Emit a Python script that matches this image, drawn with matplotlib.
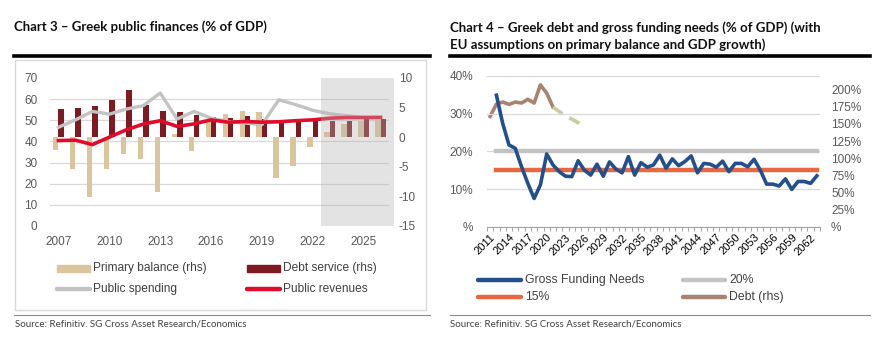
import numpy as np
import matplotlib
matplotlib.use("Agg")
import matplotlib.pyplot as plt
from matplotlib.lines import Line2D
from matplotlib.patches import Rectangle

# chart 3: Greek public finances (% of GDP)
years3 = list(range(2007, 2027))
primary_balance = [-2.1, -5.3, -10.1, -5.3, -2.8, -3.7, -9.2, 0.5, -2.3, 2.7,
                   3.9, 4.5, 4.3, -6.9, -4.9, -1.6, 0.9, 2.2, 2.7, 2.9]
debt_service = [4.7, 5.0, 5.3, 6.3, 7.9, 5.5, 4.35, 4.2, 3.8, 3.4,
                3.3, 3.6, 3.0, 2.9, 2.8, 2.8, 2.8, 2.8, 3.0, 3.0]
public_spending = [46.7, 50.2, 54.2, 52.9, 55.3, 56.9, 62.9, 50.6, 54.2, 51.0,
                   49.4, 48.7, 47.9, 59.7, 57.4, 54.7, 53.1, 52.1, 51.5, 51.5]
public_revenues = [40.4, 40.6, 38.5, 42.0, 45.5, 48.2, 49.8, 47.1, 48.3, 50.2,
                   49.1, 49.4, 49.1, 49.3, 49.8, 50.2, 51.0, 51.3, 51.3, 51.3]
forecast_start3 = 2022.5

# chart 4: Greek debt and gross funding needs (% of GDP)
years4 = list(range(2011, 2064))
gfn_years = list(range(2012, 2064))
gross_funding_needs = [34.9, 27.4, 21.7, 20.8, 15.9, 11.5, 7.5, 11.1, 19.3, 16.4,
                       14.6, 13.4, 13.3, 17.5, 15.0, 13.7, 16.6, 13.4, 17.2, 15.3,
                       14.3, 18.6, 13.7, 17.0, 15.8, 16.4, 19.0, 15.5, 18.0, 16.2,
                       17.3, 18.8, 14.3, 16.8, 16.6, 15.8, 17.4, 14.6, 16.8, 16.8,
                       15.9, 17.9, 15.0, 11.3, 11.3, 10.8, 12.7, 9.9, 12.0, 12.0,
                       11.5, 13.5]
debt_years = list(range(2011, 2022))
debt = [161, 179, 182, 178.5, 182, 180.5, 186, 180.5, 207, 195, 174.7]
debt_proj_years = list(range(2021, 2027))
debt_proj = [174.7, 168, 162, 157, 152, 147]
threshold_high = 20
threshold_low = 15

TAN = "#dac59c"
DARK_RED = "#7d1b20"
GREY_LINE = "#c3c3c3"
RED_LINE = "#e30b2c"
BLUE = "#234f8c"
ORANGE = "#e8673f"
BROWN = "#a98371"
DASH = "#cbcba0"
TICK_COL = "#595959"
GRID_COL = "#d9d9d9"

W, H = 878, 345
plt.rcParams["font.family"] = ["Liberation Sans", "DejaVu Sans"]
plt.rcParams["axes.unicode_minus"] = False

fig = plt.figure(figsize=(W / 100, H / 100), dpi=100)


def fx(x):
    return x / W


def fy(y):
    return 1 - y / H


def px_axes(x0, y0, x1, y1):
    return fig.add_axes([fx(x0), fy(y1), fx(x1 - x0), (y1 - y0) / H])


def key_line(x0, x1, y, color, lw=3.2):
    fig.add_artist(Line2D([fx(x0), fx(x1)], [fy(y), fy(y)], color=color, lw=lw,
                          solid_capstyle="round", transform=fig.transFigure))


def key_box(x0, x1, y, color):
    fig.add_artist(Rectangle((fx(x0), fy(y + 3.5)), fx(x1 - x0), 7 / H,
                             color=color, transform=fig.transFigure))


def key_text(x, y, s, size=8.6):
    fig.text(fx(x), fy(y), s, fontsize=size, color="#404040", va="center", ha="left")


# ---------- titles, rules, sources ----------
fig.text(fx(14), fy(27), "Chart 3 \u2013 Greek public finances (% of GDP)",
         fontsize=9.5, fontweight="bold", family="Lato", va="center", color="#111111")
fig.text(fx(450), fy(28), "Chart 4 \u2013 Greek debt and gross funding needs (% of GDP) (with",
         fontsize=9.5, fontweight="bold", family="Lato", va="center", color="#111111")
fig.text(fx(450), fy(45), "EU assumptions on primary balance and GDP growth)",
         fontsize=9.5, fontweight="bold", family="Lato", va="center", color="#111111")
for x0, x1 in [(14, 430), (450, 870)]:
    fig.add_artist(Line2D([fx(x0), fx(x1)], [fy(56), fy(56)], color="black", lw=2.6,
                          transform=fig.transFigure))
    fig.add_artist(Line2D([fx(x0), fx(x1)], [fy(315), fy(315)], color="#8c8c8c", lw=0.8,
                          transform=fig.transFigure))
fig.text(fx(15), fy(324), "Source: Refinitiv. SG Cross Asset Research/Economics",
         fontsize=7, family="Lato", color="#404040", va="center")
fig.text(fx(450), fy(324), "Source: Refinitiv. SG Cross Asset Research/Economics",
         fontsize=7, family="Lato", color="#404040", va="center")

# frame around chart 3
fig.add_artist(Rectangle((fx(15), fy(310)), fx(411), 250 / H, fill=False,
                         edgecolor="#d9d9d9", lw=1, transform=fig.transFigure))

# ---------- chart 3 ----------
ax3 = px_axes(50, 78, 389, 226)          # left scale: spending / revenues
ax3r = ax3.twinx()                        # right scale: bars
ax3.set_zorder(ax3r.get_zorder() + 1)
ax3.patch.set_visible(False)

x = np.array(years3)
ax3r.bar(x - 0.16, primary_balance, width=0.32, color=TAN, zorder=2)
ax3r.bar(x + 0.16, debt_service, width=0.32, color=DARK_RED, zorder=2)
ax3r.set_ylim(-15, 10)
ax3r.set_yticks(range(-15, 11, 5))
# gridlines follow the left scale (every 10 pts of 0-70)
ax3r.set_yticks(np.linspace(-15, 10, 8), minor=True)
ax3r.grid(which="minor", axis="y", color=GRID_COL, lw=0.9, zorder=0)
ax3r.set_axisbelow(True)

ax3.plot(years3, public_spending, color=GREY_LINE, lw=2.4, zorder=3)
ax3.plot(years3, public_revenues, color=RED_LINE, lw=2.6, zorder=4)
ax3.set_ylim(0, 70)
ax3.set_yticks(range(0, 71, 10))
ax3.set_xlim(2006.5, 2026.5)
ax3.set_xticks(range(2007, 2026, 3))
ax3.axvspan(forecast_start3, 2026.78, color="#b4b4b4", alpha=0.36, lw=0,
            zorder=10, clip_on=False)

for a in (ax3, ax3r):
    for s in a.spines.values():
        s.set_visible(False)
    a.tick_params(length=0, labelsize=8.5, labelcolor=TICK_COL)
ax3.tick_params(axis="y", pad=9)
ax3r.tick_params(axis="y", which="both", length=0, pad=7)
ax3.tick_params(axis="x", pad=7)

key_box(57, 90, 268, TAN)
key_text(93, 268, "Primary balance (rhs)")
key_box(247, 280, 268, DARK_RED)
key_text(283, 268, "Debt service (rhs)")
key_line(57, 90, 289, GREY_LINE)
key_text(93, 289, "Public spending")
key_line(247, 280, 289, RED_LINE)
key_text(283, 289, "Public revenues")

# ---------- chart 4 ----------
ax4 = px_axes(487, 76, 820, 226.7)
ax4r = ax4.twinx()
ax4.set_zorder(ax4r.get_zorder() + 1)
ax4.patch.set_visible(False)

ax4r.plot(debt_years, debt, color=BROWN, lw=2.6, solid_joinstyle="round")
ax4r.plot(debt_proj_years, debt_proj, color=DASH, lw=2.6, ls=(0, (3.2, 2.2)))
ax4r.set_ylim(0, 220)
ax4r.set_yticks(range(0, 201, 25))
ax4r.set_yticklabels(["%"] + [f"{v}%" for v in range(25, 201, 25)])

ax4.plot([gfn_years[0], gfn_years[-1]], [threshold_high] * 2, color=GREY_LINE, lw=3.2, zorder=2)
ax4.plot([gfn_years[0], gfn_years[-1]], [threshold_low] * 2, color=ORANGE, lw=3.2, zorder=2)
ax4.plot(gfn_years, gross_funding_needs, color=BLUE, lw=2.6, zorder=3,
         solid_joinstyle="round")
ax4.set_ylim(0, 40)
ax4.set_yticks(range(0, 41, 10))
ax4.set_yticklabels(["%"] + [f"{v}%" for v in range(10, 41, 10)])
ax4.yaxis.grid(True, color=GRID_COL, lw=0.9)
ax4.set_axisbelow(True)
ax4.set_xlim(years4[0] - 0.5, years4[-1] + 0.5)
ax4.set_xticks(np.arange(years4[0] - 0.5, years4[-1] + 1, 1.0))
ax4.set_xticklabels([])
ax4.set_xticks(range(2011, 2063, 3), minor=True)
ax4.set_xticklabels([str(v) for v in range(2011, 2063, 3)], minor=True,
                    rotation=45, ha="right", rotation_mode="anchor")

for a in (ax4, ax4r):
    for s in a.spines.values():
        s.set_visible(False)
    a.tick_params(length=0, labelsize=8.5, labelcolor=TICK_COL)
ax4.spines["bottom"].set_visible(True)
ax4.spines["bottom"].set_color("#a6a6a6")
ax4.tick_params(axis="x", which="major", length=3, color="#a6a6a6", direction="out")
ax4.tick_params(axis="x", which="minor", length=0, pad=4, labelsize=8)
ax4.tick_params(axis="y", pad=10)
ax4r.tick_params(axis="y", pad=8)

key_line(478, 521, 280, BLUE)
key_text(525, 280, "Gross Funding Needs", 8.8)
key_line(683, 725, 280, GREY_LINE)
key_text(729, 280, "20%", 8.8)
key_line(478, 521, 297, ORANGE)
key_text(525, 297, "15%", 8.8)
key_line(683, 725, 297, BROWN)
key_text(729, 297, "Debt (rhs)", 8.8)

fig.savefig("out.png", dpi=100)
